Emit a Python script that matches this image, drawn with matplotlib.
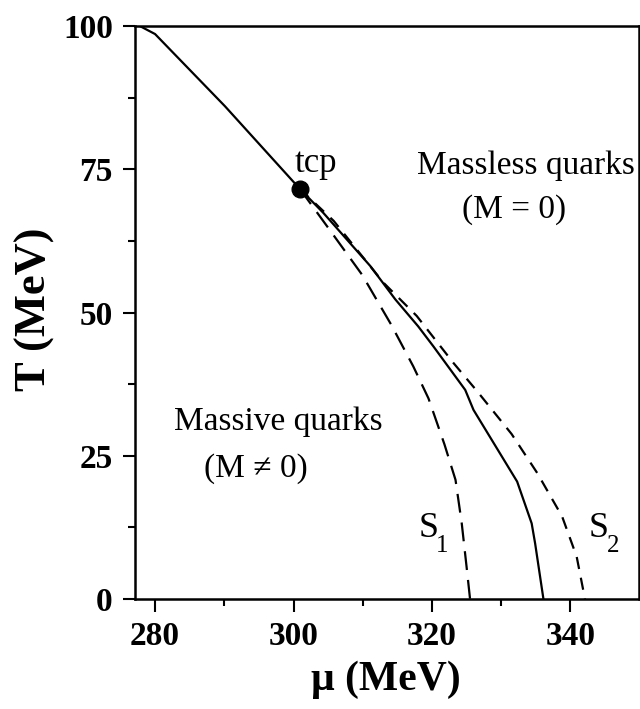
import matplotlib
matplotlib.use("Agg")
import matplotlib.pyplot as plt
from matplotlib.ticker import MultipleLocator

plt.rcParams["font.family"] = ["Liberation Serif", "DejaVu Serif"]

# first-order line (solid) from top down to the tricritical point
mu_first = [277.8, 280.0, 290.1, 300.9]
T_first = [100.0, 98.6, 86.0, 71.6]

# second-order / crossover line below tcp (solid)
mu_second = [300.9, 304.3, 311.1, 314.7, 318.0, 320.2, 324.8, 326.0, 332.3, 334.4, 334.9, 336.1]
T_second = [71.6, 67.4, 58.1, 52.3, 47.6, 44.1, 36.5, 33.0, 20.5, 13.2, 9.7, 0.0]

# spinodal S1 (long dashes)
mu_s1 = [300.9, 305.0, 309.9, 314.1, 317.3, 319.5, 321.8, 323.4, 324.3, 325.0, 325.5]
T_s1 = [71.6, 64.8, 56.6, 47.9, 40.6, 35.0, 27.0, 20.8, 13.2, 5.6, 0.0]

# spinodal S2 (short dashes)
mu_s2 = [300.9, 305.8, 313.0, 317.8, 323.1, 326.5, 331.5, 335.2, 338.8, 340.9, 342.1]
T_s2 = [71.6, 66.0, 55.2, 49.4, 41.2, 36.3, 28.8, 22.0, 14.4, 7.4, 0.0]

tcp_mu, tcp_T = 300.9, 71.6

fig = plt.figure(figsize=(6.4, 7.09), dpi=100)
ax = fig.add_axes([0.2109, 0.1551, 0.7875, 0.8082])

lw = 1.6
ax.plot(mu_first, T_first, color="black", lw=lw)
ax.plot(mu_second, T_second, color="black", lw=lw)
ax.plot(mu_s1, T_s1, color="black", lw=lw, dashes=(8.5, 4.5))
ax.plot(mu_s2, T_s2, color="black", lw=lw, dashes=(5.5, 4.0))
ax.plot([tcp_mu], [tcp_T], "o", color="black", ms=12, zorder=5)

ax.set_xlim(277.1, 349.9)
ax.set_ylim(0, 100)
ax.xaxis.set_major_locator(MultipleLocator(20))
ax.xaxis.set_minor_locator(MultipleLocator(10))
ax.yaxis.set_major_locator(MultipleLocator(25))
ax.yaxis.set_minor_locator(MultipleLocator(12.5))

for s in ax.spines.values():
    s.set_linewidth(1.8)
ax.tick_params(which="major", direction="out", length=9, width=1.5, pad=7,
               labelsize=24)
ax.tick_params(which="minor", direction="out", length=5, width=1.5)
for lab in ax.get_xticklabels() + ax.get_yticklabels():
    lab.set_fontweight("bold")

ax.set_xlabel("\u03bc (MeV)", fontsize=30, fontweight="bold", va="center")
ax.set_ylabel("T (MeV)", fontsize=32, fontweight="bold", va="center")
ax.xaxis.set_label_coords(0.498, -0.141)
ax.yaxis.set_label_coords(-0.198, 0.506)

fs = 24
ax.text(300.2, 74.5, "tcp", fontsize=25, ha="left", va="baseline")
ax.text(333.5, 74.1, "Massless quarks", fontsize=fs, ha="center", va="baseline")
ax.text(331.9, 66.6, "(M = 0)", fontsize=fs, ha="center", va="baseline")
ax.text(297.8, 29.5, "Massive quarks", fontsize=fs, ha="center", va="baseline")
ax.text(294.6, 21.4, "(M \u2260 0)", fontsize=fs, ha="center", va="baseline")

ax.text(318.0, 10.8, "S", fontsize=26, ha="left", va="baseline")
ax.text(320.6, 8.2, "1", fontsize=18, ha="left", va="baseline")
ax.text(342.6, 10.8, "S", fontsize=26, ha="left", va="baseline")
ax.text(345.3, 8.2, "2", fontsize=18, ha="left", va="baseline")

fig.savefig("out.png", dpi=100)
